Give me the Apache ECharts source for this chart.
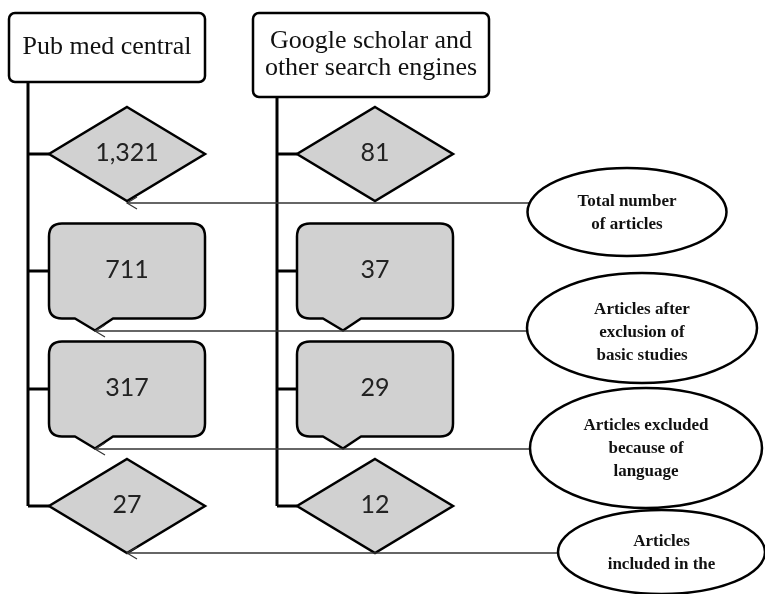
<!DOCTYPE html>
<html>
<head>
<meta charset="utf-8">
<script src="https://cdn.jsdelivr.net/npm/echarts@6/dist/echarts.min.js"></script>
<style>
html,body{margin:0;padding:0;background:#fff;}
#chart{width:765px;height:594px;}
</style>
</head>
<body>
<div id="chart"></div>
<script>
// ---- data ----
const sources = ['Pub med central', 'Google scholar and\nother search engines'];
const stages = ['Total number\nof articles', 'Articles after\nexclusion of\nbasic studies', 'Articles excluded\nbecause of\nlanguage', 'Articles\nincluded in the'];
const stageShapes = ['diamond', 'callout', 'callout', 'diamond'];
const pubmedCounts = [1321, 711, 317, 27];
const googleCounts = [81, 37, 29, 12];

// ---- layout (diagram space, mapped through the axes) ----
const L = {
  headerBox: [[9, 205, 13, 82], [253, 489, 13, 97]],
  trunkX: [28, 277],
  shapeCX: [127, 375],
  shapeHW: 78,
  rowY: [154, 271, 389, 506],
  diamondHH: 47,
  calloutHH: 47.5,
  calloutR: 13,
  tipDX: [26, 46, 64], tipDY: 12,
  ellipse: [[627, 212, 99.5, 44], [642, 328, 115, 55], [646, 448, 116, 60], [661.5, 552, 103.5, 42]],
  connectorY: [203, 331, 449, 553]
};

const FILL = '#d1d1d1', INK = '#000';

const shapeData = [];
[pubmedCounts, googleCounts].forEach((arr, c) => arr.forEach((v, r) => shapeData.push([c, r, v])));

function renderHeaders(params, api) {
  const c = params.dataIndex;
  const b = L.headerBox[c];
  const p0 = api.coord([b[0], b[2]]), p1 = api.coord([b[1], b[3]]);
  const t0 = api.coord([L.trunkX[c], b[3]]), t1 = api.coord([L.trunkX[c], L.rowY[3]]);
  return {
    type: 'group',
    children: [
      { type: 'line', shape: { x1: t0[0], y1: t0[1], x2: t1[0], y2: t1[1] }, style: { stroke: INK, lineWidth: 3 } },
      { type: 'rect', shape: { x: p0[0], y: p0[1], width: p1[0] - p0[0], height: p1[1] - p0[1], r: 6 },
        style: { fill: '#fff', stroke: INK, lineWidth: 2.5 } },
      { type: 'text', x: (p0[0] + p1[0]) / 2, y: (p0[1] + p1[1]) / 2,
        style: { text: sources[c], font: '26px "Liberation Serif"', fill: '#111', align: 'center', verticalAlign: 'middle', lineHeight: 27 } }
    ]
  };
}

function renderShapes(params, api) {
  const c = api.value(0), r = api.value(1), v = api.value(2);
  const cx = L.shapeCX[c], hw = L.shapeHW, cy = L.rowY[r];
  const kind = stageShapes[r];
  const P = (x, y) => api.coord([x, y]);
  const children = [];
  const tk0 = P(L.trunkX[c], cy), tk1 = P(cx - hw, cy);
  children.push({ type: 'line', shape: { x1: tk0[0], y1: tk0[1], x2: tk1[0], y2: tk1[1] }, style: { stroke: INK, lineWidth: 3 } });
  if (kind === 'diamond') {
    const hh = L.diamondHH;
    children.push({ type: 'polygon', shape: { points: [P(cx, cy - hh), P(cx + hw, cy), P(cx, cy + hh), P(cx - hw, cy)] },
      style: { fill: FILL, stroke: INK, lineWidth: 2.5, lineJoin: 'miter' } });
  } else {
    const x0 = cx - hw, x1 = cx + hw, y0 = cy - L.calloutHH, y1 = cy + L.calloutHH, rr = L.calloutR;
    const pts = [
      ['M', x0 + rr, y0], ['L', x1 - rr, y0], ['Q', x1, y0, x1, y0 + rr], ['L', x1, y1 - rr], ['Q', x1, y1, x1 - rr, y1],
      ['L', x0 + L.tipDX[2], y1], ['L', x0 + L.tipDX[1], y1 + L.tipDY], ['L', x0 + L.tipDX[0], y1],
      ['L', x0 + rr, y1], ['Q', x0, y1, x0, y1 - rr], ['L', x0, y0 + rr], ['Q', x0, y0, x0 + rr, y0]
    ];
    let d = '';
    pts.forEach(s => {
      d += s[0];
      for (let i = 1; i < s.length; i += 2) { const q = P(s[i], s[i + 1]); d += ' ' + q[0] + ' ' + q[1]; }
      d += ' ';
    });
    d += 'Z';
    children.push({ type: 'path', shape: { pathData: d }, style: { fill: FILL, stroke: INK, lineWidth: 2.5, lineJoin: 'round' } });
  }
  const tc = P(cx, cy);
  children.push({ type: 'text', x: tc[0], y: tc[1] - 1,
    style: { text: v.toLocaleString('en-US'), font: '25px Lato', fill: '#222', align: 'center', verticalAlign: 'middle' } });
  return { type: 'group', children };
}

function renderStages(params, api) {
  const i = params.dataIndex;
  const e = L.ellipse[i];
  const y = L.connectorY[i];
  const startX = stageShapes[i] === 'diamond' ? L.shapeCX[0] : (L.shapeCX[0] - L.shapeHW + L.tipDX[1]);
  const dy = (y - e[1]) / e[3];
  const endX = e[0] - e[2] * Math.sqrt(Math.max(0, 1 - dy * dy));
  const P = (x, yy) => api.coord([x, yy]);
  const a = P(startX, y), b = P(endX, y);
  const l = P(e[0] - e[2], e[1]), rr = P(e[0] + e[2], e[1]), top = P(e[0], e[1] - e[3]);
  const rx = rr[0] - l[0], ry = l[1] - top[1];
  const d = 'M ' + l[0] + ' ' + l[1] + ' A ' + (rx / 2) + ' ' + ry + ' 0 1 0 ' + rr[0] + ' ' + rr[1] +
            ' A ' + (rx / 2) + ' ' + ry + ' 0 1 0 ' + l[0] + ' ' + l[1] + ' Z';
  const ctr = P(e[0], e[1]);
  return {
    type: 'group',
    children: [
      { type: 'line', shape: { x1: a[0], y1: a[1], x2: b[0], y2: b[1] }, style: { stroke: '#333', lineWidth: 1.3 } },
      { type: 'polyline', shape: { points: [[a[0] + 10, a[1] - 6], [a[0], a[1]], [a[0] + 10, a[1] + 6]] }, style: { stroke: '#333', lineWidth: 1.2, fill: null } },
      { type: 'path', shape: { pathData: d }, style: { fill: '#fff', stroke: INK, lineWidth: 2.5 } },
      { type: 'text', x: ctr[0], y: (i === 1 ? ctr[1] + 5 : ctr[1] + 1),
        style: { text: stages[i], font: 'bold 17px "Liberation Serif"', fill: '#111', align: 'center', verticalAlign: 'middle', lineHeight: 23 } }
    ]
  };
}

const chart = echarts.init(document.getElementById('chart'));
chart.setOption({
  animation: false,
  backgroundColor: '#fff',
  grid: { left: 0, right: 0, top: 0, bottom: 0 },
  xAxis: { type: 'value', min: 0, max: 765, show: false },
  yAxis: { type: 'value', min: 0, max: 594, inverse: true, show: false },
  series: [
    { type: 'custom', clip: false, z: 2, renderItem: renderHeaders, data: sources.map((s, i) => [i]) },
    { type: 'custom', clip: false, z: 3, renderItem: renderShapes, data: shapeData, encode: { x: 0, y: 1 } },
    { type: 'custom', clip: false, z: 4, renderItem: renderStages, data: stages.map((s, i) => [i]) }
  ]
});
</script>
</body>
</html>
